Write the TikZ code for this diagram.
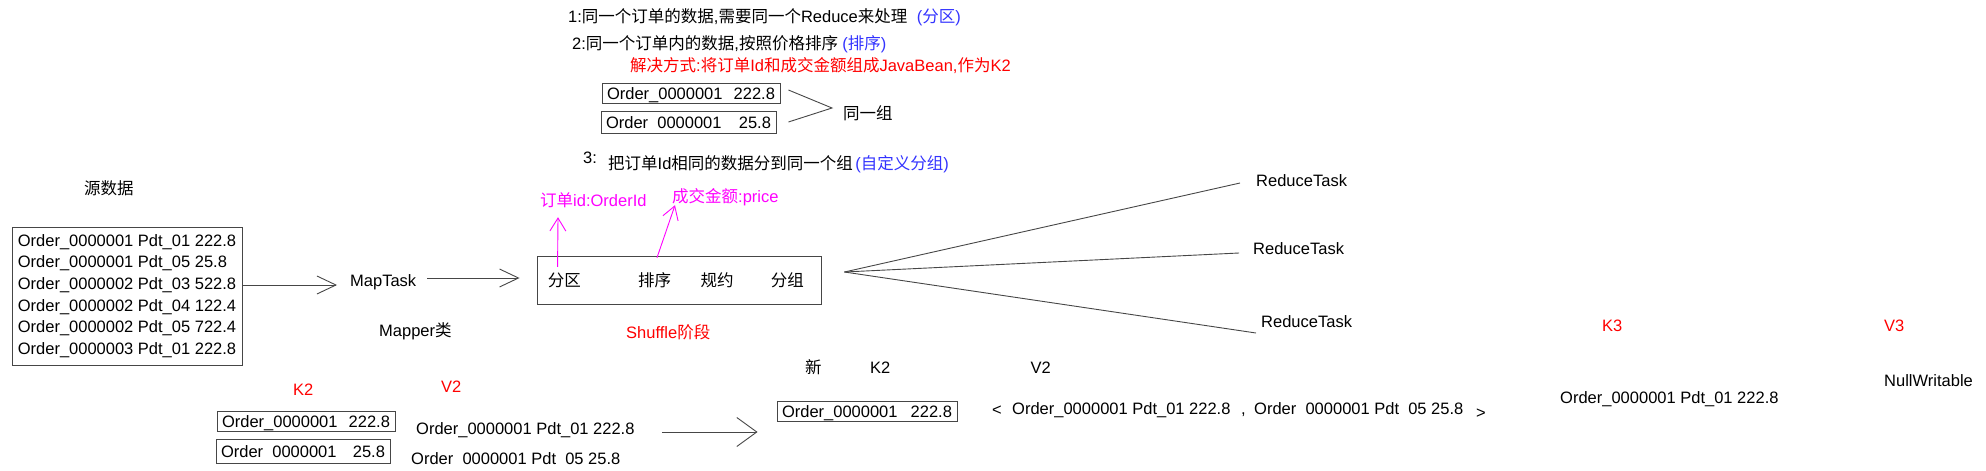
\documentclass[tikz,border=0pt]{standalone}
\usepackage{fontspec}
\setmainfont{Liberation Sans}
\newfontfamily\cjk{Noto Sans CJK SC}
\usetikzlibrary{arrows.meta,positioning}
\definecolor{lineGray}{RGB}{70,70,70}
\definecolor{tipRed}{RGB}{255,0,0}
\definecolor{tipBlue}{RGB}{51,51,255}
\definecolor{fieldPink}{RGB}{255,0,255}
\tikzset{%
    >={Straight Barb[length=19pt,width=18pt]},
    txt/.style = {inner sep=0pt, anchor=west, text height=13pt, text depth=1pt},
    hint/.style = {txt, text=tipBlue},
    warn/.style = {txt, text=tipRed},
    field/.style = {txt, text=fieldPink},
    box/.style = {draw=lineGray, line width=0.9pt},
    keyBox/.style = {
        box, text width=168pt, inner xsep=5pt, inner ysep=3pt,
        text height=13pt, text depth=1pt
    },
    flow/.style = {draw=lineGray, line width=0.9pt, ->},
    bigFlow/.style = {draw=lineGray, line width=0.9pt,
        -{Straight Barb[length=20pt,width=29pt]}},
    fieldArrow/.style = {draw=fieldPink, line width=0.9pt,
        -{Straight Barb[length=13pt,width=16pt]}},
}

\begin{document}
\begin{tikzpicture}[
        x=1pt, y=-1pt,
        every node/.style={font=\fontsize{16.5}{21.6}\selectfont}
    ]
        \useasboundingbox (0,0) rectangle (1986,471);
        % Nodes position
        \node (ruleOne)      [txt] at (568,16)
                                {1:{\cjk 同一个订单的数据},{\cjk 需要同一个}Reduce{\cjk 来处理}};
        \node (ruleOneTag)   [hint, right=9pt of ruleOne]
                                {({\cjk 分区})};
        \node (ruleTwo)      [txt] at (572,43)
                                {2:{\cjk 同一个订单内的数据},{\cjk 按照价格排序}};
        \node (ruleTwoTag)   [hint, right=4pt of ruleTwo]
                                {({\cjk 排序})};
        \node (solution)     [warn] at (630,65)
                                {{\cjk 解决方式}:{\cjk 将订单}Id{\cjk 和成交金额组成}JavaBean,{\cjk 作为}K2};
        \node (beanOne)      [keyBox] at (691,93)
                                {Order\_0000001\hfill 222.8};
        \node (beanTwo)      [keyBox, text width=165pt, inner ysep=4pt] at (688.5,122)
                                {Order\phantom{\_}0000001\hfill 25.8};
        \node (sameGroup)    [txt] at (843,113)
                                {{\cjk 同一组}};
        \node (ruleThreeNum) [txt] at (583,157)
                                {3:};
        \node (ruleThree)    [txt] at (608,163)
                                {{\cjk 把订单}Id{\cjk 相同的数据分到同一个组}};
        \node (ruleThreeTag) [hint, right=2pt of ruleThree]
                                {({\cjk 自定义分组})};

        \node (srcTitle)     [txt] at (84,188)
                                {{\cjk 源数据}};
        \node (src)          [box, align=left, minimum width=230pt, minimum height=138pt] at (127,296)
                                {Order\_0000001 Pdt\_01 222.8\\
                                 Order\_0000001 Pdt\_05 25.8\\
                                 Order\_0000002 Pdt\_03 522.8\\
                                 Order\_0000002 Pdt\_04 122.4\\
                                 Order\_0000002 Pdt\_05 722.4\\
                                 Order\_0000003 Pdt\_01 222.8};
        \node (mapTask)      [txt] at (350,280)
                                {MapTask};
        \node (mapper)       [txt] at (379,330)
                                {Mapper{\cjk 类}};

        \node (shuffle)      [box, minimum width=284pt, minimum height=48pt] at (679,280)
                                {};
        \node (partition)    [txt, right=11pt of shuffle.west]
                                {{\cjk 分区}};
        \node (sort)         [txt, right=57pt of partition]
                                {{\cjk 排序}};
        \node (combine)      [txt, right=29pt of sort]
                                {{\cjk 规约}};
        \node (grouping)     [txt, right=37pt of combine]
                                {{\cjk 分组}};
        \node (shuffleTitle) [warn] at (626,332)
                                {Shuffle{\cjk 阶段}};
        \node (orderIdField) [field] at (540,200)
                                {{\cjk 订单}id:OrderId};
        \node (priceField)   [field] at (672,196)
                                {{\cjk 成交金额}:price};

        \node (reduceOne)    [txt] at (1256,180)
                                {ReduceTask};
        \node (reduceTwo)    [txt] at (1253,248)
                                {ReduceTask};
        \node (reduceThree)  [txt] at (1261,321)
                                {ReduceTask};

        \node (keyTwoTitle)  [warn] at (293,389)
                                {K2};
        \node (valTwoTitle)  [warn] at (441,386)
                                {V2};
        \node (keyOne)       [keyBox] at (306,421.5)
                                {Order\_0000001\hfill 222.8};
        \node (keyTwo)       [keyBox, text width=164pt, inner ysep=5pt] at (303,451)
                                {Order\phantom{\_}0000001\hfill 25.8};
        \node (valOne)       [txt] at (416,428)
                                {Order\_0000001 Pdt\_01 222.8};
        \node (valTwo)       [txt] at (411,458)
                                {Order\phantom{\_}0000001 Pdt\phantom{\_}05 25.8};

        \node (newTitle)     [txt] at (805,367)
                                {{\cjk 新}};
        \node (newKeyTitle)  [txt, right=48pt of newTitle]
                                {K2};
        \node (newValTitle)  [txt, right=140pt of newKeyTitle]
                                {V2};
        \node (newKey)       [keyBox, text width=170pt] at (867,411)
                                {Order\_0000001\hfill 222.8};
        \node (listOpen)     [txt] at (992,409)
                                {<};
        \node (listOne)      [txt] at (1012,408)
                                {Order\_0000001 Pdt\_01 222.8};
        \node (listComma)    [txt] at (1241,408)
                                {,};
        \node (listTwo)      [txt] at (1254,408)
                                {Order\phantom{\_}0000001 Pdt\phantom{\_}05 25.8};
        \node (listClose)    [txt] at (1476,412)
                                {>};

        \node (keyThreeTitle) [warn] at (1602,325)
                                {K3};
        \node (valThreeTitle) [warn] at (1884,325)
                                {V3};
        \node (keyThree)     [txt] at (1560,397)
                                {Order\_0000001 Pdt\_01 222.8};
        \node (nullValue)    [txt] at (1884,380)
                                {NullWritable};

        \coordinate (sameTip) at ([xshift=-11pt,yshift=5pt]sameGroup.west);
        \coordinate (fan)     at ([xshift=23pt,yshift=8pt]shuffle.east);

        % Arrow specification
        \draw[flow] ([yshift=11pt]src.east) -- ([xshift=-13pt,yshift=-5pt]mapTask.west);
        \draw[flow] ([xshift=11pt,yshift=2pt]mapTask.east) -- ([xshift=-17pt,yshift=2pt]shuffle.west);
        \draw[fieldArrow] ([xshift=10pt,yshift=6pt]partition.north west) -- ([xshift=18pt,yshift=-10pt]orderIdField.south west);
        \draw[fieldArrow] ([xshift=19pt,yshift=15pt]sort.north west) -- ([xshift=3pt,yshift=-2pt]priceField.south west);
        \draw[draw=lineGray, line width=0.9pt] ([xshift=8pt,yshift=3pt]beanOne.east) -- (sameTip)
                                            -- ([xshift=12pt]beanTwo.east);
        \draw[draw=lineGray, line width=0.9pt] (fan) -- ([xshift=-16pt,yshift=-3pt]reduceOne.west);
        \draw[draw=lineGray, line width=0.9pt] (fan) -- ([xshift=-14pt,yshift=-5pt]reduceTwo.west);
        \draw[draw=lineGray, line width=0.9pt] (fan) -- ([xshift=-5pt,yshift=-12pt]reduceThree.west);
        \draw[bigFlow] ([xshift=27pt,yshift=-4pt]valOne.east) -- ([xshift=-19pt,yshift=-21pt]newKey.west);
\end{tikzpicture}
\end{document}
